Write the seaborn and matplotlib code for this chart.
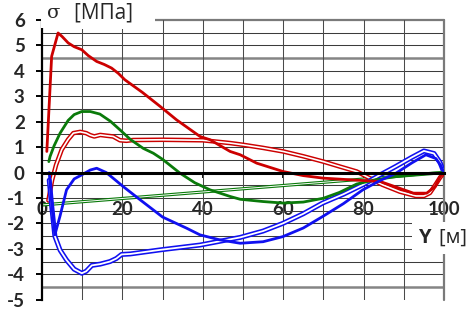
import numpy as np
import pandas as pd
import seaborn as sns
from matplotlib import pyplot as plt

# red, thick
red_x = [1.2, 2.4, 4.0, 5.0, 6.5, 8.0, 9.9, 11.5, 13.6, 15.5, 17.3, 19.0, 20.6, 25.0, 29.4, 33.5,
         39.3, 41.8, 46.8, 49.3, 53.4, 60.0, 65.0, 70.0, 78.3, 84.1, 89.0, 92.4, 95.7, 97.8, 99.0, 100]
red_y = [0.83, 4.57, 5.49, 5.35, 5.10, 4.95, 4.83, 4.60, 4.37, 4.25, 4.11, 3.90, 3.65, 3.15, 2.60, 2.07,
         1.42, 1.29, 0.83, 0.70, 0.37, 0.04, -0.12, -0.22, -0.30, -0.35, -0.62, -0.81, -0.81, -0.55, -0.16, 0.0]

# red, double line
red2_x = [1.6, 2.5, 3.5, 4.9, 6.5, 7.8, 9.5, 11.0, 12.0, 13.0, 14.5, 16.0, 17.7, 19.4, 21.0, 22.7,
          30.0, 40.0, 46.8, 50.1, 55.0, 60.0, 65.0, 70.0, 74.0, 78.3, 84.7, 89.0, 93.0, 95.0, 96.5, 98.0, 99.0, 100]
red2_y = [-1.10, -0.30, 0.30, 0.90, 1.30, 1.55, 1.60, 1.55, 1.47, 1.42, 1.48, 1.45, 1.42, 1.27, 1.25, 1.28,
          1.29, 1.27, 1.16, 1.09, 0.97, 0.83, 0.64, 0.43, 0.24, 0.04, -0.48, -0.75, -0.92, -0.92, -0.80, -0.45, -0.20, 0.0]

# green, thick
green_x = [1.7, 2.0, 3.0, 4.5, 6.5, 8.0, 9.9, 12.0, 14.4, 17.0, 19.4, 22.0, 25.2, 27.7, 30.0, 34.3, 38.0,
           41.8, 46.8, 49.3, 55.0, 60.0, 65.0, 70.0, 74.0, 78.3, 83.0, 88.0, 93.0, 97.0, 100]
green_y = [0.43, 0.63, 1.05, 1.55, 2.05, 2.28, 2.40, 2.40, 2.30, 2.02, 1.68, 1.30, 0.95, 0.76, 0.52, -0.02, -0.40,
           -0.68, -0.94, -1.05, -1.14, -1.20, -1.16, -1.01, -0.78, -0.45, -0.28, -0.16, -0.08, -0.02, 0.0]

# green, double line
green2_x = [0.3, 100]
green2_y = [-1.27, 0.0]

# blue, thick
blue_x = [1.8, 2.5, 3.2, 4.5, 6.1, 8.0, 9.9, 12.0, 13.6, 16.0, 20.2, 24.4, 30.0, 36.0, 39.3, 44.3, 49.3,
          55.0, 59.9, 65.0, 69.8, 75.0, 79.8, 84.0, 88.0, 92.0, 95.5, 98.0, 99.2, 100]
blue_y = [0.0, -1.40, -2.45, -1.70, -0.68, -0.25, -0.09, 0.10, 0.17, 0.00, -0.55, -1.07, -1.75, -2.19, -2.45, -2.65, -2.78,
          -2.72, -2.52, -2.18, -1.73, -1.22, -0.68, -0.32, -0.03, 0.38, 0.70, 0.55, 0.28, 0.0]

# blue, double line
blue2_x = [1.8, 2.4, 3.2, 4.5, 6.1, 8.0, 9.9, 11.0, 12.4, 14.5, 16.9, 18.5, 19.8, 22.0, 29.4, 39.3, 49.3,
           55.0, 59.9, 65.0, 69.8, 75.0, 79.8, 84.0, 88.0, 92.0, 95.0, 97.5, 99.0, 100]
blue2_y = [-0.30, -1.30, -2.50, -3.05, -3.44, -3.80, -3.96, -3.88, -3.65, -3.60, -3.50, -3.38, -3.22, -3.20, -3.04, -2.85, -2.55,
           -2.30, -2.00, -1.62, -1.20, -0.85, -0.48, -0.10, 0.24, 0.60, 0.85, 0.75, 0.40, 0.0]

x_ticks = [0, 20, 40, 60, 80, 100]
y_ticks = [-5, -4, -3, -2, -1, 0, 1, 2, 3, 4, 5, 6]

sns.set_style('white')
plt.rcParams['font.family'] = ['Lato', 'DejaVu Sans']

RED = '#cc0000'
GREEN = '#0a7a0a'
BLUE = '#1010f0'

fig = plt.figure(figsize=(4.76, 3.09), dpi=100)
ax = fig.add_axes([42 / 476, 1 - 299.7 / 309, 402 / 476, 279.7 / 309])


def plain(xs, ys, c, lw=2.0):
    df = pd.DataFrame({'x': xs, 'y': ys})
    sns.lineplot(data=df, x='x', y='y', color=c, lw=lw, sort=False, ax=ax, zorder=3)


def double(xs, ys, c, lw_out=3.3, lw_in=1.2):
    df = pd.DataFrame({'x': xs, 'y': ys})
    sns.lineplot(data=df, x='x', y='y', color=c, lw=lw_out, sort=False, ax=ax, zorder=3)
    sns.lineplot(data=df, x='x', y='y', color='white', lw=lw_in, sort=False, ax=ax, zorder=3)


double(green2_x, green2_y, GREEN, 2.3, 0.7)
double(red2_x, red2_y, RED)
double(blue2_x, blue2_y, BLUE, 3.6, 1.3)
plain(green_x, green_y, GREEN)
plain(red_x, red_y, RED)
plain(blue_x, blue_y, BLUE)

ax.set_xlim(0, 100)
ax.set_ylim(-5, 6)

# grid
for yv in np.arange(-4.5, 6.01, 0.5):
    if abs(yv) < 1e-9:
        continue
    if abs(abs(yv) - 4.5) < 1e-9:
        ax.axhline(yv, color='#858585', lw=1.8, zorder=1)
    elif abs(yv - 6) < 1e-9:
        ax.axhline(yv, color='#7a7a7a', lw=1.6, zorder=1, clip_on=False)
    else:
        ax.axhline(yv, color='#3c3c3c', lw=0.75, zorder=1)
for xv in range(10, 100, 10):
    ax.axvline(xv, color='#4a4a4a', lw=0.75, zorder=1)
ax.axvline(100, color='#7a7a7a', lw=1.6, zorder=1, clip_on=False)

# axes
for s in ['top', 'right']:
    ax.spines[s].set_visible(False)
ax.spines['left'].set_color('black')
ax.spines['left'].set_linewidth(1.6)
ax.spines['left'].set_zorder(4)
ax.spines['bottom'].set_position(('data', 0))
ax.spines['bottom'].set_color('black')
ax.spines['bottom'].set_linewidth(2.2)
ax.spines['bottom'].set_zorder(4)

ax.set_yticks(y_ticks)
ax.set_yticklabels([str(v) for v in y_ticks], fontsize=13.5, fontweight='bold')
ax.set_xticks(x_ticks)
ax.set_xticklabels([str(v) for v in x_ticks], fontsize=13.5, fontweight='bold')
ax.tick_params(axis='y', direction='out', length=4.5, width=1.4, color='black', pad=8, left=True)
ax.tick_params(axis='x', direction='out', length=3.5, width=1.3, color='black', pad=17, bottom=True)
ax.set_xlabel('')
ax.set_ylabel('')

# axis titles on white boxes
box = dict(facecolor='white', edgecolor='none', pad=4)
fig.text(47 / 476, 1 - 13 / 309, 'σ ', family='DejaVu Serif', fontsize=14, va='center', ha='left', zorder=6,
         bbox=box)
fig.text(74 / 476, 1 - 13 / 309, '[МПа]   ', family=['Open Sans', 'DejaVu Sans'], fontsize=15, va='center',
         ha='left', zorder=6, bbox=box)
fig.text(418 / 476, 1 - 238 / 309, 'Y', family=['Open Sans', 'DejaVu Sans'], fontsize=14.5, fontweight='bold',
         va='center', ha='left', zorder=6, bbox=box)
fig.text(439 / 476, 1 - 238 / 309, '[м]  ', family=['Open Sans', 'DejaVu Sans'], fontsize=14.5,
         va='center', ha='left', zorder=6, bbox=box)

plt.savefig('out.png', dpi=100)
